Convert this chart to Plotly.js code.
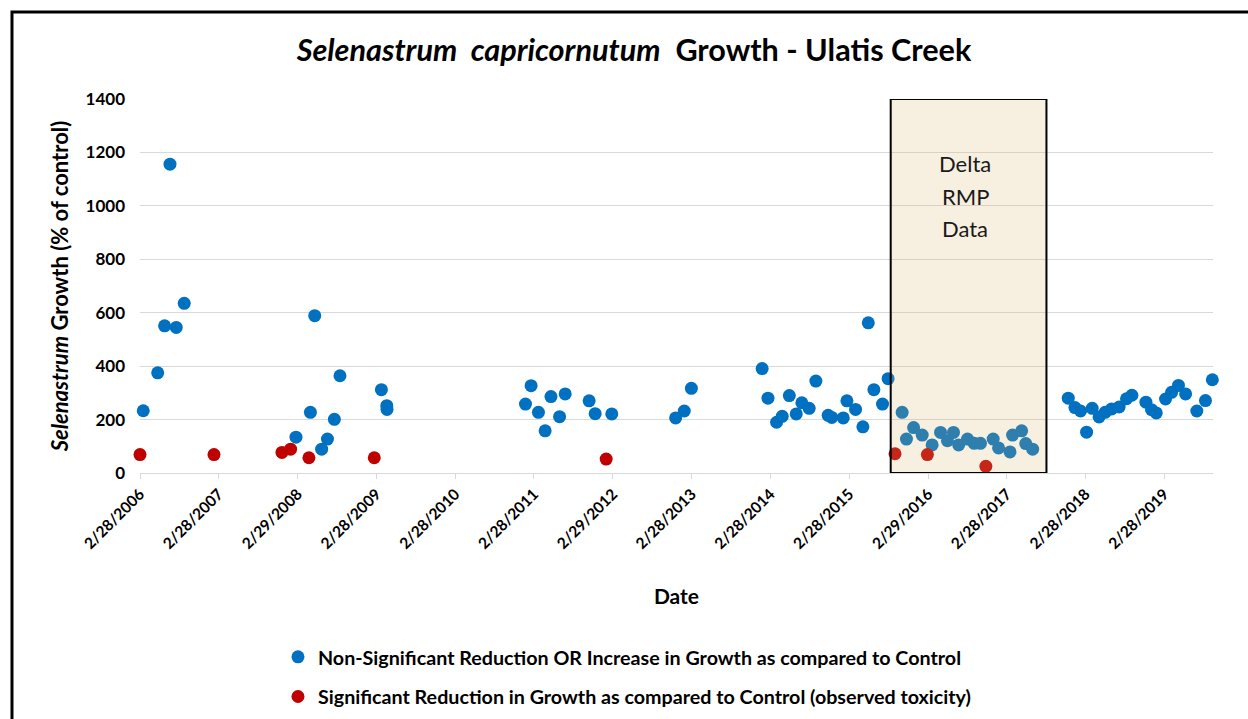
<!DOCTYPE html>
<html>
<head>
<meta charset="utf-8">
<script src="https://cdn.plot.ly/plotly-3.0.1.min.js"></script>
<style>
  html, body { margin: 0; padding: 0; background: #ffffff; }
  #chart { width: 1248px; height: 719px; }
</style>
</head>
<body>
<div id="chart"></div>
<script>
// Non-significant reduction OR increase (blue)
const blueDates = [
  "2006-03-15","2006-05-21","2006-06-22","2006-07-17","2006-08-15","2006-09-21",
  "2008-02-21","2008-04-28","2008-05-18","2008-06-19","2008-07-16","2008-08-17","2008-09-12",
  "2009-03-23","2009-04-17","2009-04-18",
  "2011-01-20","2011-02-15","2011-03-21","2011-04-21","2011-05-18","2011-06-27","2011-07-23",
  "2011-11-11","2011-12-09","2012-02-24",
  "2012-12-16","2013-01-25","2013-02-27",
  "2014-01-21","2014-02-17","2014-03-29","2014-04-24","2014-05-27","2014-06-28","2014-07-24",
  "2014-08-27","2014-09-27","2014-11-23","2014-12-10","2015-02-01","2015-02-18","2015-03-30",
  "2015-05-03","2015-05-28","2015-06-23","2015-08-02","2015-08-28",
  "2015-11-01","2015-11-21","2015-12-24","2016-02-02","2016-03-19","2016-04-27","2016-05-29",
  "2016-06-26","2016-07-20","2016-08-30","2016-09-30","2016-10-29","2016-12-27","2017-01-21",
  "2017-03-15","2017-03-27","2017-05-08","2017-05-27","2017-06-28",
  "2017-12-10","2018-01-10","2018-02-05","2018-03-05","2018-03-31","2018-05-02","2018-05-30",
  "2018-06-29","2018-08-03","2018-09-06","2018-10-01","2018-12-05","2018-12-31","2019-01-22",
  "2019-03-06","2019-04-03","2019-05-05","2019-06-07","2019-07-29","2019-09-07","2019-10-09"
];
const blueValues = [
  233, 375, 551, 1156, 545, 635,
  134, 227, 589, 89, 127, 201, 364,
  312, 252, 238,
  258, 327, 227, 158, 286, 211, 296,
  270, 222, 221,
  206, 232, 317,
  391, 280, 190, 212, 290, 221, 263,
  242, 344, 216, 208, 206, 270, 238,
  173, 562, 312, 258, 353,
  227, 127, 170, 142, 105, 152, 121,
  152, 105, 127, 111, 111, 127, 94,
  79, 142, 158, 110, 89,
  280, 245, 232, 153, 242, 210, 227,
  240, 247, 278, 291, 265, 237, 225,
  277, 302, 328, 296, 232, 271, 349
];

// Significant reduction (observed toxicity) (red)
const redDates = [
  "2006-02-28","2007-02-06","2007-12-18","2008-01-27","2008-04-21","2009-02-18",
  "2012-01-29","2015-09-29","2016-02-26","2016-11-23"
];
const redValues = [69, 69, 77, 89, 57, 57, 52, 72, 69, 25];

// Axis ticks
const tickDates = [
  "2006-02-28","2007-02-28","2008-02-29","2009-02-28","2010-02-28","2011-02-28","2012-02-29",
  "2013-02-28","2014-02-28","2015-02-28","2016-02-29","2017-02-28","2018-02-28","2019-02-28"
];
const tickLabels = [
  "2/28/2006","2/28/2007","2/29/2008","2/28/2009","2/28/2010","2/28/2011","2/29/2012",
  "2/28/2013","2/28/2014","2/28/2015","2/29/2016","2/28/2017","2/28/2018","2/28/2019"
];
const yTicks = [0, 200, 400, 600, 800, 1000, 1200, 1400];

// Delta RMP data period
const deltaStart = "2015-09-09";
const deltaEnd = "2017-08-31";
const deltaLines = ["Delta", "RMP", "Data"];
const deltaLineY = [1160, 1035, 917];

const FONT = "Lato, 'Open Sans', sans-serif";

const traces = [
  {
    type: "scatter", mode: "markers",
    x: blueDates, y: blueValues,
    name: "Non-Significant Reduction OR Increase in Growth as compared to Control",
    legendgroup: "a",
    marker: { color: "#0070C0", size: 13 },
    cliponaxis: false
  },
  {
    type: "scatter", mode: "markers",
    x: redDates, y: redValues,
    name: "Significant Reduction in Growth as compared to Control (observed toxicity)",
    legendgroup: "b",
    marker: { color: "#C00000", size: 13 },
    cliponaxis: false
  }
];

const annotations = deltaLines.map((t, i) => ({
  xref: "x", yref: "y",
  x: "2016-08-20", y: deltaLineY[i],
  text: t, showarrow: false,
  font: { family: FONT, size: 22, color: "#1a1a1a" }
}));

const layout = {
  width: 1248, height: 719,
  paper_bgcolor: "#ffffff", plot_bgcolor: "#ffffff",
  margin: { l: 140, r: 35, t: 99, b: 246, autoexpand: false },
  font: { family: FONT, color: "#000000" },
  title: {
    text: "<i>Selenastrum  capricornutum</i>  Growth - Ulatis Creek",
    font: { family: FONT, size: 30.6, color: "#000000", weight: "bold" },
    x: 0.508, xanchor: "center", y: 0.93, yanchor: "middle"
  },
  xaxis: {
    type: "date",
    range: ["2006-02-28", "2019-10-12"],
    tickvals: tickDates, ticktext: tickLabels,
    tickangle: -45,
    tickfont: { family: FONT, size: 15.5, color: "#000000", weight: "bold" },
    ticks: "outside", ticklen: 5, tickcolor: "#d9d9d9", tickwidth: 1,
    showline: true, linecolor: "#d9d9d9", linewidth: 1,
    showgrid: false, zeroline: false,
    title: { text: "Date", font: { family: FONT, size: 21, color: "#000000", weight: "bold" }, standoff: 38 }
  },
  yaxis: {
    range: [0, 1400],
    tickvals: yTicks,
    tickfont: { family: FONT, size: 17, color: "#000000", weight: "bold" },
    showgrid: true, gridcolor: "#d9d9d9", gridwidth: 1,
    zeroline: false, showline: false,
    ticks: "", ticklabelstandoff: 14,
    title: { text: "<i>Selenastrum</i> Growth (% of control)", font: { family: FONT, size: 22, color: "#000000", weight: "bold" }, standoff: 10 }
  },
  showlegend: true,
  legend: {
    orientation: "v",
    x: 0.1286, xanchor: "left",
    y: -0.44, yanchor: "top",
    font: { family: FONT, size: 19.7, color: "#000000", weight: "bold" },
    tracegroupgap: 11,
    bgcolor: "rgba(0,0,0,0)"
  },
  shapes: [
    {
      type: "rect", xref: "x", yref: "y",
      x0: deltaStart, x1: deltaEnd, y0: 0, y1: 1400,
      fillcolor: "rgba(215,180,110,0.21)",
      line: { color: "#000000", width: 2 },
      layer: "above"
    },
    {
      type: "rect", xref: "paper", yref: "paper",
      x0: -0.1193, x1: 1.2, y0: -0.9, y1: 1.2326,
      fillcolor: "rgba(0,0,0,0)",
      line: { color: "#000000", width: 3 },
      layer: "below"
    }
  ],
  annotations: annotations
};

Plotly.newPlot("chart", traces, layout, { displayModeBar: false, staticPlot: true });
</script>
</body>
</html>
